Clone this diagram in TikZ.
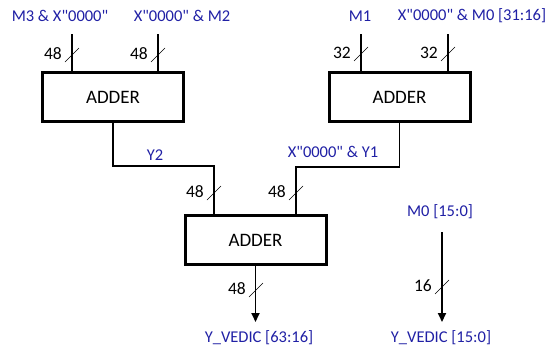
\documentclass[tikz,border=0pt]{standalone}
\usepackage{fontspec}
\setmainfont{Carlito}[Ligatures=TeXOff]
\usetikzlibrary{arrows.meta,calc}
\definecolor{sigblue}{RGB}{32,32,165}

% straight double quote
\newcommand{\dq}{\symbol{34}}
% bus width mark: slash through a vertical wire plus the width label
\newcommand{\buswidth}[2]{%
  \draw[thin] ($(#1)+(-7,7)$) -- ($(#1)+(7,-7)$);
  \node[buslabel, anchor=east] at ($(#1)+(-10,-1)$) {#2};
}

\begin{document}
\begin{tikzpicture}[x=1pt, y=-1pt,
  adder/.style={draw, line width=3pt, minimum width=141pt, minimum height=49pt,
                inner sep=0pt, font=\fontsize{19}{22}\selectfont},
  wire/.style={line width=1.8pt},
  sig/.style={text=sigblue, font=\fontsize{16.5}{19}\selectfont, inner sep=0pt},
  buslabel/.style={font=\fontsize{17.5}{20}\selectfont, inner sep=0pt},
  outarrow/.style={wire, -{Triangle[length=9pt, width=8pt]}}]

\useasboundingbox (0,0) rectangle (553,351);

% adders
\node[adder] (addL) at (113,97)    {ADDER};
\node[adder] (addR) at (399.5,97)  {ADDER};
\node[adder] (addB) at (255.5,240) {ADDER};

% input names
\node[sig] (sM3) at (60,16)  {M3 \& X\dq0000\dq};
\node[sig] (sM2) at (182,16) {X\dq0000\dq{} \& M2};
\node[sig] (sM1) at (360,16) {M1};
\node[sig] (sM0) at (472,16) {X\dq0000\dq{} \& M0 [31:16]};

% inputs of the upper adders
\coordinate (inL1) at (72,34);
\coordinate (inL2) at (158,34);
\coordinate (inR1) at (361,34);
\coordinate (inR2) at (448,34);
\draw[wire] (inL1) -- (inL1 |- addL.north);
\draw[wire] (inL2) -- (inL2 |- addL.north);
\draw[wire] (inR1) -- (inR1 |- addR.north);
\draw[wire] (inR2) -- (inR2 |- addR.north);
\buswidth{72,55}{48}
\buswidth{158,55}{48}
\buswidth{361,54}{32}
\buswidth{448,54}{32}

% sums into the lower adder
\coordinate (jY2) at (214,166);
\coordinate (jY1) at (296,167);
\draw[wire] (addL.south) |- (jY2) -- (jY2 |- addB.north);
\draw[wire] (addR.south) |- (jY1) -- (jY1 |- addB.north);
\node[sig] (sY2) at (155,155) {Y2};
\node[sig] (sY1) at (333,152) {X\dq0000\dq{} \& Y1};
\buswidth{214,193}{48}
\buswidth{296,193}{48}

% outputs
\coordinate (outL) at (addB.south |- 0,322);
\draw[outarrow] (addB.south) -- (outL);
\buswidth{256,290}{48}
\node[sig] (sOL) at (259,338) {Y\_VEDIC [63:16]};

\node[sig] (sM0lo) at (440,212) {M0 [15:0]};
\coordinate (inM0) at (442,232);
\coordinate (outR) at (442,322);
\draw[outarrow] (inM0) -- (outR);
\buswidth{442,287}{16}
\node[sig] (sOR) at (441,338) {Y\_VEDIC [15:0]};

\end{tikzpicture}
\end{document}
